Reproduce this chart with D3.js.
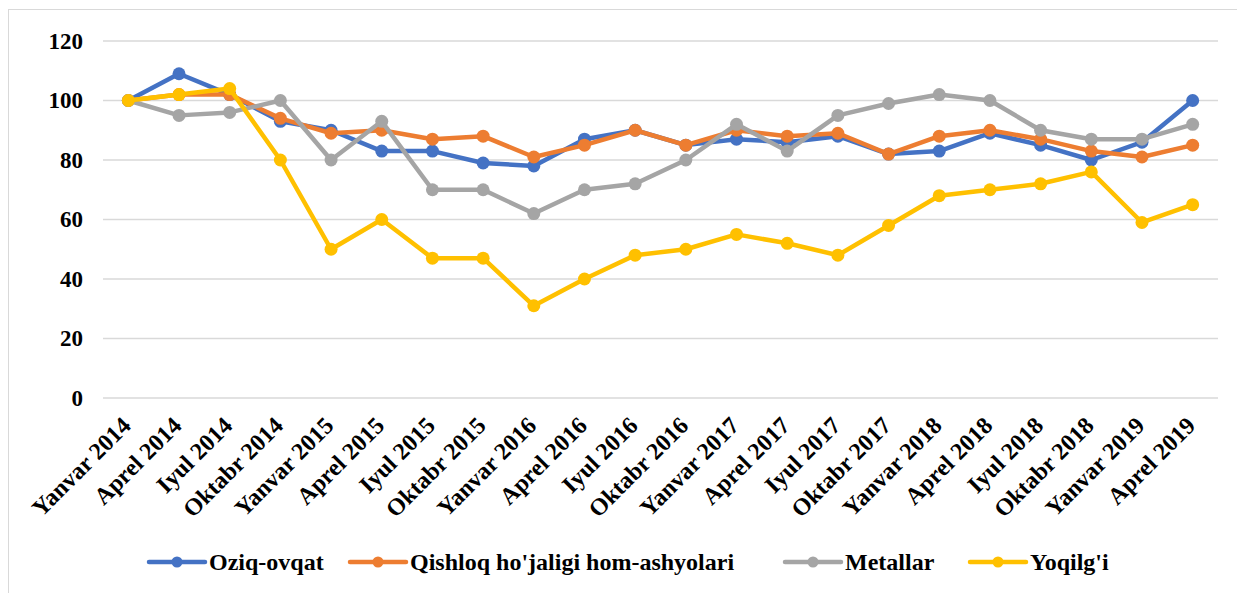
<html>
<head>
<script src="https://d3js.org/d3.v7.min.js"></script>
<style>
  body { margin: 0; background: #fff; }
  svg text { font-family: "Liberation Serif", "Times New Roman", "DejaVu Serif", serif !important; font-weight: bold; }
</style>
</head>
<body>
<script>
const width = 1237;
const height = 593;

// categories
const months = ["Yanvar 2014", "Aprel 2014", "Iyul 2014", "Oktabr 2014",
  "Yanvar 2015", "Aprel 2015", "Iyul 2015", "Oktabr 2015",
  "Yanvar 2016", "Aprel 2016", "Iyul 2016", "Oktabr 2016",
  "Yanvar 2017", "Aprel 2017", "Iyul 2017", "Oktabr 2017",
  "Yanvar 2018", "Aprel 2018", "Iyul 2018", "Oktabr 2018",
  "Yanvar 2019", "Aprel 2019"];

// series values
const oziqOvqat = [100, 109, 102, 93, 90, 83, 83, 79, 78, 87, 90, 85, 87, 86, 88, 82, 83, 89, 85, 80, 86, 100];
const qishloq = [100, 102, 102, 94, 89, 90, 87, 88, 81, 85, 90, 85, 90, 88, 89, 82, 88, 90, 87, 83, 81, 85];
const metallar = [100, 95, 96, 100, 80, 93, 70, 70, 62, 70, 72, 80, 92, 83, 95, 99, 102, 100, 90, 87, 87, 92];
const yoqilgi = [100, 102, 104, 80, 50, 60, 47, 47, 31, 40, 48, 50, 55, 52, 48, 58, 68, 70, 72, 76, 59, 65];

const yTicks = [0, 20, 40, 60, 80, 100, 120];

const series = [
  { name: "Oziq-ovqat", values: oziqOvqat, color: "#4472C4" },
  { name: "Qishloq ho'jaligi hom-ashyolari", values: qishloq, color: "#ED7D31" },
  { name: "Metallar", values: metallar, color: "#A5A5A5" },
  { name: "Yoqilg'i", values: yoqilgi, color: "#FFC000" }
];

const svg = d3.select("body").append("svg")
  .attr("width", width)
  .attr("height", height);

// chart border
svg.append("rect")
  .attr("x", 8.5).attr("y", 9.5)
  .attr("width", 1300).attr("height", 700)
  .attr("fill", "none")
  .attr("stroke", "#D9D9D9");

const x = d3.scalePoint()
  .domain(months)
  .range([103, 1218])
  .padding(0.5);

const y = d3.scaleLinear()
  .domain([0, 120])
  .range([398, 41]);

// gridlines
svg.append("g")
  .selectAll("line")
  .data(yTicks)
  .join("line")
  .attr("x1", 103).attr("x2", 1218)
  .attr("y1", d => y(d)).attr("y2", d => y(d))
  .attr("stroke", "#D9D9D9")
  .attr("stroke-width", 1.5);

// y axis labels
const yAxis = svg.append("g")
  .attr("transform", "translate(83,0)")
  .call(d3.axisLeft(y).tickValues(yTicks).tickSize(0).tickPadding(0));
yAxis.select(".domain").remove();
yAxis.attr("font-family", null).attr("font-size", null);
yAxis.selectAll("text")
  .attr("font-size", 23)
  .attr("fill", "#000");

// x axis labels
svg.append("g")
  .selectAll("text")
  .data(months)
  .join("text")
  .attr("transform", d => `translate(${x(d) + 4},427) rotate(-45)`)
  .attr("text-anchor", "end")
  .attr("font-size", 24)
  .attr("fill", "#000")
  .text(d => d);

// lines and markers
const line = d3.line()
  .x((d, i) => x(months[i]))
  .y(d => y(d));

series.forEach(s => {
  svg.append("path")
    .attr("d", line(s.values))
    .attr("fill", "none")
    .attr("stroke", s.color)
    .attr("stroke-width", 4.5)
    .attr("stroke-linejoin", "round");

  svg.append("g")
    .selectAll("circle")
    .data(s.values)
    .join("circle")
    .attr("cx", (d, i) => x(months[i]))
    .attr("cy", d => y(d))
    .attr("r", 6.5)
    .attr("fill", s.color);
});

// legend
const legendX = [149, 350, 785, 970];
const legend = svg.append("g");
series.forEach((s, i) => {
  const g = legend.append("g").attr("transform", `translate(${legendX[i]},562)`);
  g.append("line")
    .attr("x1", 0).attr("x2", 56)
    .attr("stroke", s.color)
    .attr("stroke-width", 4.5)
    .attr("stroke-linecap", "round");
  g.append("circle")
    .attr("cx", 28).attr("r", 5.5)
    .attr("fill", s.color);
  g.append("text")
    .attr("x", 60)
    .attr("dy", "0.35em")
    .attr("font-size", 24)
    .attr("fill", "#000")
    .text(s.name);
});
</script>
</body>
</html>
